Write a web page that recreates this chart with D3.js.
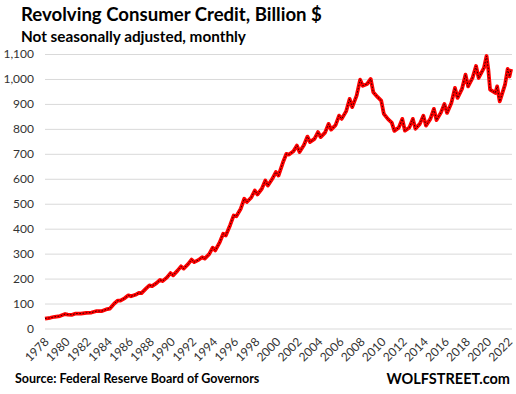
<!DOCTYPE html>
<html>
<head>
<meta charset="utf-8">
<script src="https://cdn.jsdelivr.net/npm/d3@7"></script>
<style>
  body { margin: 0; background: #fff; }
  svg { display: block; font-family: Lato, "Liberation Sans", sans-serif; }
</style>
</head>
<body>
<div id="chart"></div>
<script>
const width = 516;
const height = 394;

// revolving consumer credit, billion $ (not seasonally adjusted)
const months = [
  '1978-01','1978-07','1978-12','1979-06','1979-12','1980-03','1980-08','1980-12',
  '1981-06','1981-12','1982-06','1982-12','1983-06','1983-12','1984-03','1984-08',
  '1984-12','1985-03','1985-08','1985-12','1986-03','1986-08','1986-12','1987-03',
  '1987-08','1987-12','1988-03','1988-08','1988-12','1989-03','1989-08','1989-12',
  '1990-03','1990-08','1990-12','1991-03','1991-08','1991-12','1992-03','1992-08',
  '1992-12','1993-03','1993-08','1993-12','1994-03','1994-08','1994-12','1995-03',
  '1995-08','1995-12','1996-03','1996-08','1996-12','1997-03','1997-08','1997-12',
  '1998-03','1998-08','1998-12','1999-03','1999-08','1999-12','2000-03','2000-08',
  '2000-12','2001-03','2001-08','2001-12','2002-03','2002-08','2002-12','2003-03',
  '2003-08','2003-12','2004-03','2004-08','2004-12','2005-03','2005-08','2005-12',
  '2006-03','2006-08','2006-12','2007-03','2007-08','2007-12','2008-03','2008-08',
  '2008-12','2009-03','2009-08','2009-12','2010-03','2010-08','2010-12','2011-03',
  '2011-08','2011-12','2012-03','2012-08','2012-12','2013-03','2013-08','2013-12',
  '2014-03','2014-08','2014-12','2015-03','2015-08','2015-12','2016-03','2016-08',
  '2016-12','2017-03','2017-08','2017-12','2018-03','2018-08','2018-12','2019-03',
  '2019-09','2019-12','2020-02','2020-04','2020-10','2020-12','2021-03','2021-09',
  '2021-12','2022-02','2022-04'
];
const credit = [
  40, 43, 47, 50, 58, 56, 55, 60,
  60, 63, 64, 70, 70, 78, 80, 100,
  112, 112, 122, 133, 129, 135, 143, 142,
  160, 173, 170, 182, 195, 190, 205, 222,
  213, 232, 249, 240, 258, 276, 266, 275,
  286, 280, 298, 324, 313, 345, 380, 373,
  415, 453, 450, 480, 520, 507, 525, 553,
  537, 560, 593, 573, 600, 627, 613, 665,
  700, 697, 710, 733, 707, 735, 769, 747,
  760, 787, 767, 785, 820, 797, 815, 853,
  840, 870, 920, 887, 933, 997, 973, 980,
  1000, 947, 927, 913, 860, 838, 825, 792,
  805, 840, 793, 805, 840, 800, 820, 853,
  813, 840, 880, 835, 865, 900, 864, 905,
  964, 924, 960, 1017, 970, 1004, 1052, 1004,
  1044, 1092, 1037, 957, 944, 970, 910, 977,
  1040, 1010, 1040
];
const yTicks = [0, 100, 200, 300, 400, 500, 600, 700, 800, 900, 1000, 1100];
const yearLabels = d3.range(1978, 2023, 2);

const parse = d3.timeParse('%Y-%m');
const data = months.map((m, i) => ({ date: parse(m), value: credit[i] }));

const svg = d3.select('#chart')
  .append('svg')
  .attr('width', width)
  .attr('height', height);

const x = d3.scaleTime()
  .domain([new Date(1978, 0, 1), new Date(2022, 4, 1)])
  .range([45, 512]);

const y = d3.scaleLinear()
  .domain([0, 1100])
  .range([328.5, 54]);

// title
svg.append('text').attr('x', 21).attr('y', 21)
  .attr('font-size', 18.6).attr('font-weight', 'bold').attr('fill', '#000')
  .text('Revolving Consumer Credit, Billion $');
svg.append('text').attr('x', 21).attr('y', 42)
  .attr('font-size', 15.3).attr('font-weight', 'bold').attr('fill', '#000')
  .text('Not seasonally adjusted, monthly');

// gridlines + y labels
const yAxis = d3.axisLeft(y).tickValues(yTicks).tickSize(-(512 - 45)).tickPadding(11)
  .tickFormat(d3.format(','));
const gy = svg.append('g').attr('transform', 'translate(45,0)').call(yAxis);
gy.select('.domain').remove();
gy.selectAll('.tick line').attr('stroke', '#d9d9d9').attr('stroke-width', 1);
gy.selectAll('.tick text').attr('font-size', 12).attr('fill', '#333')
  .attr('font-family', 'Lato, "Liberation Sans", sans-serif');

// x labels, rotated
const xAxis = d3.axisBottom(x)
  .tickValues(yearLabels.map(yr => new Date(yr, 0, 1)))
  .tickSize(0)
  .tickFormat(d3.timeFormat('%Y'));
const gx = svg.append('g').attr('transform', `translate(0,${y(0)})`).call(xAxis);
gx.select('.domain').remove();
gx.selectAll('.tick text')
  .attr('font-size', 12).attr('fill', '#333')
  .attr('font-family', 'Lato, "Liberation Sans", sans-serif')
  .attr('text-anchor', 'end')
  .attr('dy', 0)
  .attr('transform', 'translate(2,12) rotate(-45)');

// the line: red with dark dotted core
const line = d3.line()
  .x(d => x(d.date))
  .y(d => y(d.value));

svg.append('path').datum(data)
  .attr('fill', 'none')
  .attr('stroke', '#ff0000')
  .attr('stroke-width', 3.8)
  .attr('stroke-linejoin', 'round')
  .attr('d', line);
svg.append('path').datum(data)
  .attr('fill', 'none')
  .attr('stroke', '#300000')
  .attr('stroke-width', 1)
  .attr('stroke-dasharray', '1.6,1.6')
  .attr('d', line);

// footer
svg.append('text').attr('x', 15).attr('y', 383)
  .attr('font-size', 12.5).attr('font-weight', 'bold').attr('fill', '#000')
  .text('Source: Federal Reserve Board of Governors');
svg.append('text').attr('x', 510).attr('y', 384)
  .attr('text-anchor', 'end')
  .attr('font-size', 14.5).attr('font-weight', 'bold').attr('fill', '#000')
  .text('WOLFSTREET.com');
</script>
</body>
</html>
